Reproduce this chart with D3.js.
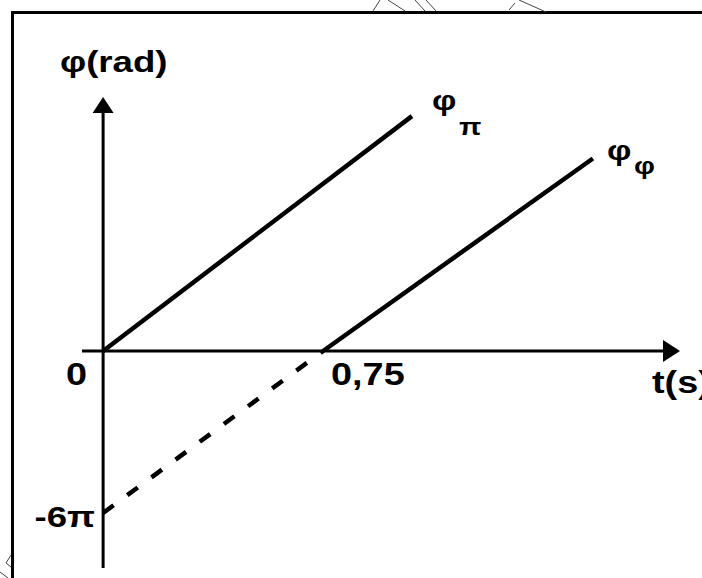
<!DOCTYPE html>
<html>
<head>
<meta charset="utf-8">
<script src="https://cdn.jsdelivr.net/npm/d3@7"></script>
<style>
  html, body { margin: 0; padding: 0; background: #fff; }
  svg { display: block; }
  text { font-family: "Liberation Sans", Arial, sans-serif; font-weight: bold; fill: #000; }
</style>
</head>
<body>
<svg id="chart" width="702" height="578"></svg>
<script>
// ---- data (t in s, φ in units of π rad) ----
const tAxisExtent = [-0.072, 1.967];
const phiAxisExtent = [-8.04, 9.41];
const tLinePi = [0, 1.053];
const phiLinePi = [0, 8.70];
const tLinePhi = [0.75, 1.67];
const phiLinePhi = [0, 7.13];
const tDashed = [0, 0.75];
const phiDashed = [-6, 0];
const tickLabelT = ["0", "0,75"];
const tickValueT = [0, 0.75];
const tickLabelPhi = "-6π";
const tickValuePhi = -6;
const axisLabelY = "φ(rad)";
const axisLabelX = "t(s)";
const seriesMain = ["φ", "φ"];
const seriesSub = ["π", "φ"];

const svg = d3.select("#chart");
const x = d3.scaleLinear().domain(tAxisExtent).range([82, 680]);
const y = d3.scaleLinear().domain(phiAxisExtent).range([568, 97]);
const SX = 1.22; // horizontal stretch of the original lettering

// frame (top & left edges visible)
svg.append("path").attr("d", "M12.5,578 V12.5 H702")
  .attr("fill", "none").attr("stroke", "#000").attr("stroke-width", 3);

// faint scan artifacts
const art = [
  [[373,11],[380,0]], [[388,0],[405,11]], [[415,0],[425,11]], [[426,0],[436,11]],
  [[509,10],[515,3]], [[519,0],[546,12]],
  [[11,555],[6,563]], [[6,563],[11,567]], [[0,572],[8,578]]
];
art.forEach(seg => svg.append("line")
  .attr("x1", seg[0][0]).attr("y1", seg[0][1]).attr("x2", seg[1][0]).attr("y2", seg[1][1])
  .attr("stroke", "#444").attr("stroke-width", 1));

// axes
const x0 = x(0), y0 = y(0);
svg.append("line").attr("x1", x(tAxisExtent[0])).attr("x2", x(tAxisExtent[1]) - 10)
  .attr("y1", y0).attr("y2", y0).attr("stroke", "#000").attr("stroke-width", 3);
svg.append("line").attr("x1", x0).attr("x2", x0)
  .attr("y1", y(phiAxisExtent[0])).attr("y2", y(phiAxisExtent[1]) + 10)
  .attr("stroke", "#000").attr("stroke-width", 3);
// arrowheads
const xt = x(tAxisExtent[1]), yt = y(phiAxisExtent[1]);
svg.append("path").attr("d", `M${xt},${y0} L${xt-17},${y0-11} L${xt-17},${y0+11} Z`).attr("fill", "#000");
svg.append("path").attr("d", `M${x0},${yt} L${x0-10.5},${yt+16} L${x0+10.5},${yt+16} Z`).attr("fill", "#000");

// lines
const line = d3.line().x(d => x(d[0])).y(d => y(d[1]));
svg.append("path").attr("d", line(d3.zip(tLinePi, phiLinePi)))
  .attr("fill", "none").attr("stroke", "#000").attr("stroke-width", 4.5);
svg.append("path").attr("d", line(d3.zip(tLinePhi, phiLinePhi)))
  .attr("fill", "none").attr("stroke", "#000").attr("stroke-width", 4.5);
svg.append("path").attr("d", line(d3.zip(tDashed, phiDashed)))
  .attr("fill", "none").attr("stroke", "#000").attr("stroke-width", 4.5)
  .attr("stroke-dasharray", "13,17");

// text helper
function label(str, px, py, size, anchor) {
  svg.append("text")
    .attr("transform", `translate(${px},${py}) scale(${SX},1)`)
    .attr("font-size", size)
    .attr("text-anchor", anchor || "start")
    .text(str);
}

label(axisLabelY, 60, 72, 30);
label(axisLabelX, 652, 393, 31);
label(tickLabelT[0], x(tickValueT[0]) - 37, 385, 31);
label(tickLabelT[1], x(tickValueT[1]) + 8, 385, 31);
label(tickLabelPhi, x0 - 8, y(tickValuePhi) + 14, 30, "end");

// series labels
const lastPi = [tLinePi[1], phiLinePi[1]];
const lastPhi = [tLinePhi[1], phiLinePhi[1]];
label(seriesMain[0], x(lastPi[0]) + 20, y(lastPi[1]) - 6, 28);
label(seriesSub[0], x(lastPi[0]) + 47, y(lastPi[1]) + 19, 24);
label(seriesMain[1], x(lastPhi[0]) + 14, y(lastPhi[1]) + 1, 28);
label(seriesSub[1], x(lastPhi[0]) + 41, y(lastPhi[1]) + 15, 24);
</script>
</body>
</html>
